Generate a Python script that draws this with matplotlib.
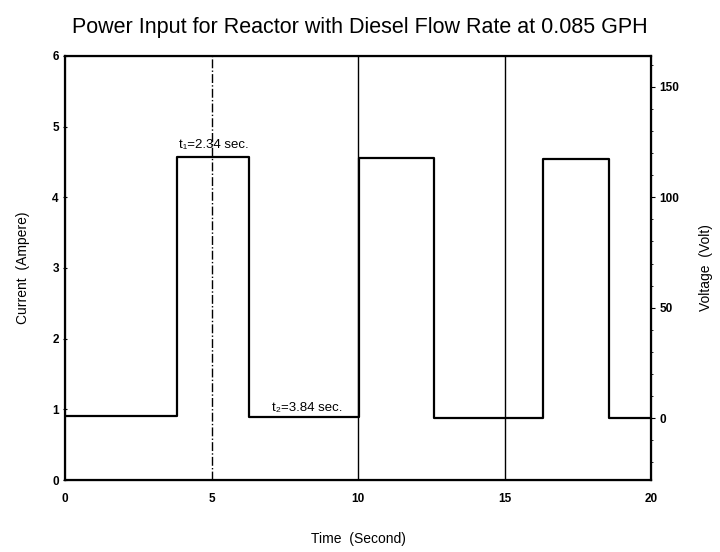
import matplotlib.pyplot as plt
import numpy as np

# step edges of the current trace (seconds) and the level after each edge (ampere)
edge_times = [0, 3.82, 6.28, 10.05, 12.6, 16.3, 18.57, 20]
current = [0.90, 4.57, 0.89, 4.55, 0.88, 4.54, 0.88, 0.88]

marker_times = [5, 10, 15]
marker_styles = ["-.", "-", "-"]

x_ticks = [0, 5, 10, 15, 20]
left_ticks = [0, 1, 2, 3, 4, 5, 6]
right_ticks = [0, 50, 100, 150]

note1 = "t\u2081=2.34 sec."
note2 = "t\u2082=3.84 sec."

plt.rcParams['font.family'] = ['Liberation Sans', 'DejaVu Sans']

fig = plt.figure(figsize=(7.2, 5.52), dpi=100)
ax = fig.add_axes([0.0903, 0.1304, 0.8139, 0.7682])

ax.step(edge_times, current, where="post", color="black", lw=1.6)
for t, ls in zip(marker_times, marker_styles):
    ax.axvline(t, color="black", lw=1.0, ls=ls)

ax.set_xlim(0, 20)
ax.set_ylim(0, 6)
ax.set_xticks(x_ticks)
ax.set_yticks(left_ticks)
for s in ax.spines.values():
    s.set_linewidth(1.6)
ax.tick_params(axis="x", length=0, pad=9, labelsize=8.5)
ax.tick_params(axis="y", direction="inout", length=3, pad=3, labelsize=8.5)
for lab in ax.get_xticklabels() + ax.get_yticklabels():
    lab.set_fontweight("bold")

# right axis: voltage, 0 V sits at the low current level
ax2 = ax.twinx()
ax2.set_ylim(-28, 164)
ax2.set_yticks(right_ticks)
ax2.set_yticks(np.arange(-20, 161, 10), minor=True)
ax2.tick_params(axis="y", direction="out", length=3, pad=3, labelsize=8.5)
ax2.tick_params(axis="y", which="minor", direction="out", length=1.5)
for lab in ax2.get_yticklabels():
    lab.set_fontweight("bold")

ax.text(3.9, 4.70, note1, fontsize=9.5)
ax.text(7.05, 0.97, note2, fontsize=9.5)

ax.set_xlabel("Time  (Second)", fontsize=10, labelpad=20)
ax.set_ylabel("Current  (Ampere)", fontsize=10, labelpad=16)
ax2.set_ylabel("Voltage  (Volt)", fontsize=10, labelpad=14)
fig.suptitle("Power Input for Reactor with Diesel Flow Rate at 0.085 GPH",
             fontsize=15.5, x=0.5, y=0.97)

plt.savefig("out.png", dpi=100)
plt.close()
